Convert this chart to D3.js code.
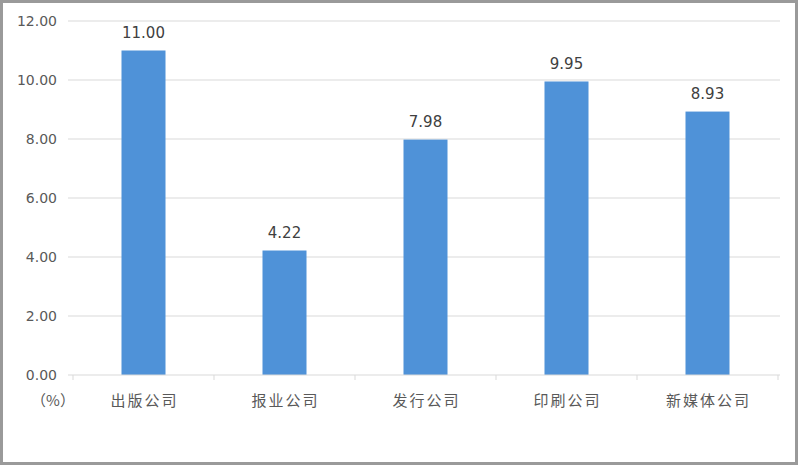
<!DOCTYPE html>
<html><head><meta charset="utf-8">
<script src="https://cdn.jsdelivr.net/npm/d3@7/dist/d3.min.js"></script>
<style>body{margin:0;background:#fff}svg{display:block}</style>
</head><body>
<script>
const categories = ["出版公司","报业公司","发行公司","印刷公司","新媒体公司"];
const values = [11.00, 4.22, 7.98, 9.95, 8.93];
const yTicks = [0, 2, 4, 6, 8, 10, 12];
const unitLabel = "（%）";

const W = 801, H = 466;
const svg = d3.select("body").append("svg").attr("width", W).attr("height", H);
svg.append("rect").attr("x",1.5).attr("y",1.5).attr("width",795).attr("height",462)
  .attr("fill","#fff").attr("stroke","#9a9a9a").attr("stroke-width",3);

const pLeft = 73, pRight = 778, pTop = 21, pBottom = 375;
const x = d3.scaleBand().domain(categories).range([pLeft, pRight]);
const y = d3.scaleLinear().domain([0, 12]).range([pBottom, pTop]);
const font = "'Noto Sans CJK SC', 'DejaVu Sans', sans-serif";
const numFont = "'DejaVu Sans', sans-serif";

// gridlines
svg.append("g").selectAll("line").data(yTicks.filter(d => d > 0)).join("line")
  .attr("x1", 68).attr("x2", pRight + 2).attr("y1", d => y(d)).attr("y2", d => y(d))
  .attr("stroke", "#d9d9d9").attr("stroke-width", 1);

// y axis labels
svg.append("g").selectAll("text").data(yTicks).join("text")
  .attr("x", 57).attr("y", d => y(d)).attr("dy", "0.35em").attr("text-anchor", "end")
  .attr("font-family", numFont).attr("font-size", 14).attr("fill", "#595959")
  .text(d => d.toFixed(2));

// bars
const bw = 44;
svg.append("g").selectAll("rect").data(values).join("rect")
  .attr("x", (d, i) => x(categories[i]) + x.bandwidth() / 2 - bw / 2)
  .attr("width", bw)
  .attr("y", d => y(d)).attr("height", d => y(0) - y(d))
  .attr("fill", "#4f92d8");

// baseline axis
const gx = svg.append("g").attr("transform", `translate(0,${pBottom})`);
gx.append("line").attr("x1", 68).attr("x2", pRight + 2).attr("stroke", "#d9d9d9");
gx.selectAll("line.tk").data(d3.range(categories.length + 1)).join("line").attr("class","tk")
  .attr("x1", i => pLeft + i * x.step()).attr("x2", i => pLeft + i * x.step())
  .attr("y1", 0).attr("y2", 5).attr("stroke", "#d9d9d9");

// category labels
svg.append("g").selectAll("text").data(categories).join("text")
  .attr("x", d => x(d) + x.bandwidth() / 2 + 1).attr("y", 401).attr("dy", "0.35em")
  .attr("text-anchor", "middle").attr("font-family", font).attr("font-size", 15).attr("fill", "#595959")
  .attr("letter-spacing", 2)
  .text(d => d);

svg.append("text").attr("x", 53).attr("y", 401).attr("dy", "0.35em").attr("text-anchor", "middle")
  .attr("font-family", font).attr("font-size", 15).attr("fill", "#595959").text(unitLabel);

// value labels
svg.append("g").selectAll("text").data(values).join("text")
  .attr("x", (d, i) => x(categories[i]) + x.bandwidth() / 2).attr("y", d => y(d) - 18).attr("dy", "0.35em")
  .attr("text-anchor", "middle").attr("font-family", numFont).attr("font-size", 15)
  .attr("fill", "#404040").text(d => d.toFixed(2));
</script>
</body></html>
